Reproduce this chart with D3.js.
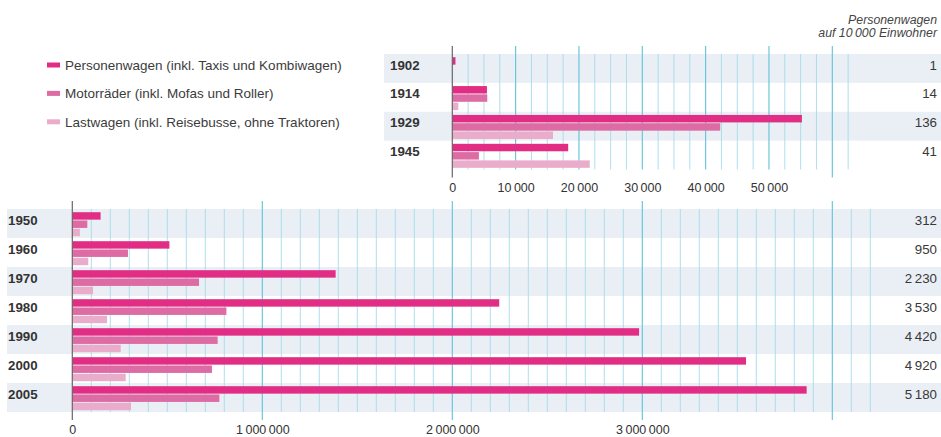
<!DOCTYPE html>
<html>
<head>
<meta charset="utf-8">
<script src="https://cdn.jsdelivr.net/npm/d3@7"></script>
<style>
  body { margin: 0; background: #fff; }
  svg { display: block; font-family: "Liberation Sans", Arial, sans-serif; }
</style>
</head>
<body>
<div class="chart-area"></div>
<script>
// series names + colours
const seriesNames = ["Personenwagen (inkl. Taxis und Kombiwagen)", "Motorräder (inkl. Mofas und Roller)", "Lastwagen (inkl. Reisebusse, ohne Traktoren)"];
const seriesColors = ["#e22d84", "#dd6ca4", "#eaaccb"];

// upper panel 1902-1945
const topYears = ["1902", "1914", "1929", "1945"];
const topPkw = [500, 5470, 55200, 18300];
const topMoto = [0, 5520, 42300, 4200];
const topLkw = [0, 950, 15900, 21700];
const topDensity = [1, 14, 136, 41];

// lower panel 1950-2005
const bottomYears = ["1950", "1960", "1970", "1980", "1990", "2000", "2005"];
const bottomPkw = [149000, 511000, 1386000, 2247000, 2983000, 3546000, 3865000];
const bottomMoto = [79000, 293000, 667000, 811000, 765000, 735000, 774000];
const bottomLkw = [40000, 84000, 109000, 183000, 255000, 281000, 309000];
const bottomDensity = [312, 950, 2230, 3530, 4420, 4920, 5180];

const width = 941, height = 437;
const fmt = d3.formatLocale({decimal: ".", thousands: "\u2009", grouping: [3], currency: ["", ""]}).format(",");

const svg = d3.select(".chart-area").append("svg")
  .attr("width", width).attr("height", height)
  .attr("viewBox", [0, 0, width, height]);

// legend
const legend = svg.append("g");
seriesNames.forEach((name, i) => {
  const y = 65 + i * 28.4;
  legend.append("rect").attr("x", 47).attr("y", y - 2.5).attr("width", 13).attr("height", 5)
    .attr("fill", seriesColors[i]);
  legend.append("text").attr("x", 65).attr("y", y + 4.7)
    .attr("font-size", 13.5).attr("fill", "#3c3c3c").text(name);
});

// header right
svg.append("text").attr("x", 937).attr("y", 23.5).attr("text-anchor", "end")
  .attr("font-size", 12.3).attr("font-style", "italic").attr("fill", "#444").text("Personenwagen");
svg.append("text").attr("x", 937).attr("y", 37.3).attr("text-anchor", "end")
  .attr("font-size", 12.3).attr("font-style", "italic").attr("fill", "#444").text("auf 10\u2009000 Einwohner");

function panel(opt) {
  const g = svg.append("g");
  const x = d3.scaleLinear().domain([0, opt.max]).range([opt.x0, 832.3]);
  const y = d3.scaleBand().domain(opt.years).range([opt.top, opt.bottom]);
  const inner = d3.scaleBand().domain([0, 1, 2]).range([3.2, 27.2]).paddingInner(0.1);

  // row bands
  g.selectAll(".band")
    .data(opt.years.filter((d, i) => i % 2 === 0))
    .join("rect")
    .attr("x", opt.bandX).attr("width", width - opt.bandX)
    .attr("y", d => y(d)).attr("height", y.bandwidth())
    .attr("fill", "#e9eff5");

  // grid lines
  const minor = d3.range(opt.minorStep, opt.gridMax + 1, opt.minorStep);
  g.selectAll(".grid")
    .data(minor)
    .join("line")
    .attr("x1", d => x(d)).attr("x2", d => x(d))
    .attr("y1", d => d % opt.majorStep === 0 ? opt.top - 8 : opt.top)
    .attr("y2", d => d === opt.max ? opt.bottom + 8 : (d % opt.majorStep === 0 ? opt.bottom + opt.majorDown : opt.bottom))
    .attr("stroke", d => d % opt.majorStep === 0 ? "#5ec2d8" : "#a6dbea")
    .attr("stroke-width", d => d % opt.majorStep === 0 ? 1.1 : 0.9);

  // bars
  const rows = opt.years.map((yr, i) => ({year: yr, vals: [opt.pkw[i], opt.moto[i], opt.lkw[i]]}));
  const row = g.selectAll(".row").data(rows).join("g")
    .attr("transform", d => `translate(0,${y(d.year)})`);
  row.selectAll("rect")
    .data(d => d.vals.map((v, k) => ({v, k})).filter(e => e.v > 0))
    .join("rect")
    .attr("x", x(0)).attr("y", d => inner(d.k))
    .attr("width", d => x(d.v) - x(0)).attr("height", inner.bandwidth())
    .attr("fill", d => seriesColors[d.k]);

  // zero axis line
  g.append("line").attr("x1", x(0)).attr("x2", x(0))
    .attr("y1", opt.top - 8).attr("y2", opt.bottom + 8)
    .attr("stroke", "#666").attr("stroke-width", 1.2);

  // year labels
  g.selectAll(".yr").data(opt.years).join("text")
    .attr("x", opt.labelX).attr("y", d => y(d) + 15.5)
    .attr("font-size", 13.3).attr("font-weight", "bold").attr("fill", "#333")
    .text(d => d);

  // density values
  g.selectAll(".dens").data(opt.density).join("text")
    .attr("x", 937).attr("y", (d, i) => y(opt.years[i]) + 15.5)
    .attr("text-anchor", "end").attr("font-size", 13.3).attr("fill", "#383838")
    .text(d => fmt(d));

  // x axis labels
  const axis = g.append("g")
    .attr("transform", `translate(0,${opt.axisY})`)
    .call(d3.axisBottom(x).tickValues(opt.ticks).tickSize(0).tickPadding(0).tickFormat(fmt));
  axis.select(".domain").remove();
  axis.selectAll("text").attr("font-size", 12.5).attr("fill", "#333")
    .attr("font-family", "Liberation Sans, Arial, sans-serif").attr("dy", 0).attr("y", 0);
}

panel({
  years: topYears, pkw: topPkw, moto: topMoto, lkw: topLkw, density: topDensity,
  max: 60000, gridMax: 62500, minorStep: 2500, majorStep: 10000, majorDown: 0,
  x0: 452.3, top: 54, bottom: 169.5, bandX: 384, labelX: 390, axisY: 191.5,
  ticks: [0, 10000, 20000, 30000, 40000, 50000]
});

panel({
  years: bottomYears, pkw: bottomPkw, moto: bottomMoto, lkw: bottomLkw, density: bottomDensity,
  max: 4000000, gridMax: 4200000, minorStep: 100000, majorStep: 1000000, majorDown: 8,
  x0: 72.3, top: 209, bottom: 412, bandX: 7, labelX: 8, axisY: 434.3,
  ticks: [0, 1000000, 2000000, 3000000]
});
</script>
</body>
</html>
